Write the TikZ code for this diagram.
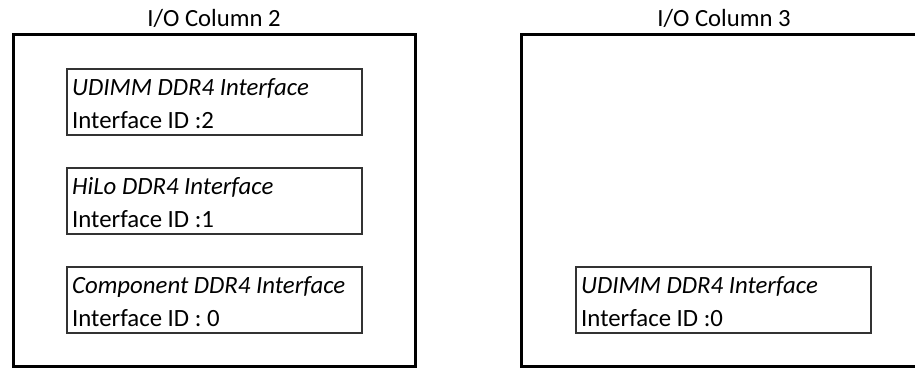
\documentclass[tikz,border=0pt]{standalone}
\usepackage{fontspec}
\setmainfont{Carlito}
\usetikzlibrary{calc}
\tikzset{
  colbox/.style={draw=black, line width=3pt, inner sep=0pt, outer sep=0pt, anchor=north west},
  ifbox/.style={draw=black!80, line width=1.4pt, inner sep=0pt, outer sep=0pt, anchor=north west, minimum width=295pt, minimum height=66pt},
  title/.style={anchor=base, inner sep=0pt, font=\fontsize{24.7}{29}\selectfont},
  itxt/.style={anchor=base west, inner sep=0pt, font=\fontsize{24.8}{29}\selectfont\itshape},
  ntxt/.style={anchor=base west, inner sep=0pt, font=\fontsize{24.8}{29}\selectfont},
}
\begin{document}
\begin{tikzpicture}[x=1pt,y=-1pt]
\clip (0,0) rectangle (915,369);
\useasboundingbox (0,0) rectangle (915,369);
% column 2
\node[colbox, minimum width=402pt, minimum height=331.5pt] (c2) at (13,34.5) {};
\node[title] (t2) at (214,26.5) {I/O Column 2};
\node[ifbox] (a) at (67,69) {};
\node[itxt] (a1) at ($(a.north west)+(5,26)$) {UDIMM DDR4 Interface};
\node[ntxt] (a2) at ($(a.north west)+(5,59)$) {Interface ID :2};
\node[ifbox] (b) at (67,168) {};
\node[itxt] (b1) at ($(b.north west)+(5,26)$) {HiLo DDR4 Interface};
\node[ntxt] (b2) at ($(b.north west)+(5,59)$) {Interface ID :1};
\node[ifbox] (c) at (67,267) {};
\node[itxt] (c1) at ($(c.north west)+(5,26)$) {Component DDR4 Interface};
\node[ntxt] (c2t) at ($(c.north west)+(5,59)$) {Interface ID : 0};
% column 3
\node[colbox, minimum width=406pt, minimum height=331.5pt] (c3) at (521,34.5) {};
\node[title] (t3) at (724,26.5) {I/O Column 3};
\node[ifbox] (d) at (576,267) {};
\node[itxt] (d1) at ($(d.north west)+(5,26)$) {UDIMM DDR4 Interface};
\node[ntxt] (d2) at ($(d.north west)+(5,59)$) {Interface ID :0};
\end{tikzpicture}
\end{document}
